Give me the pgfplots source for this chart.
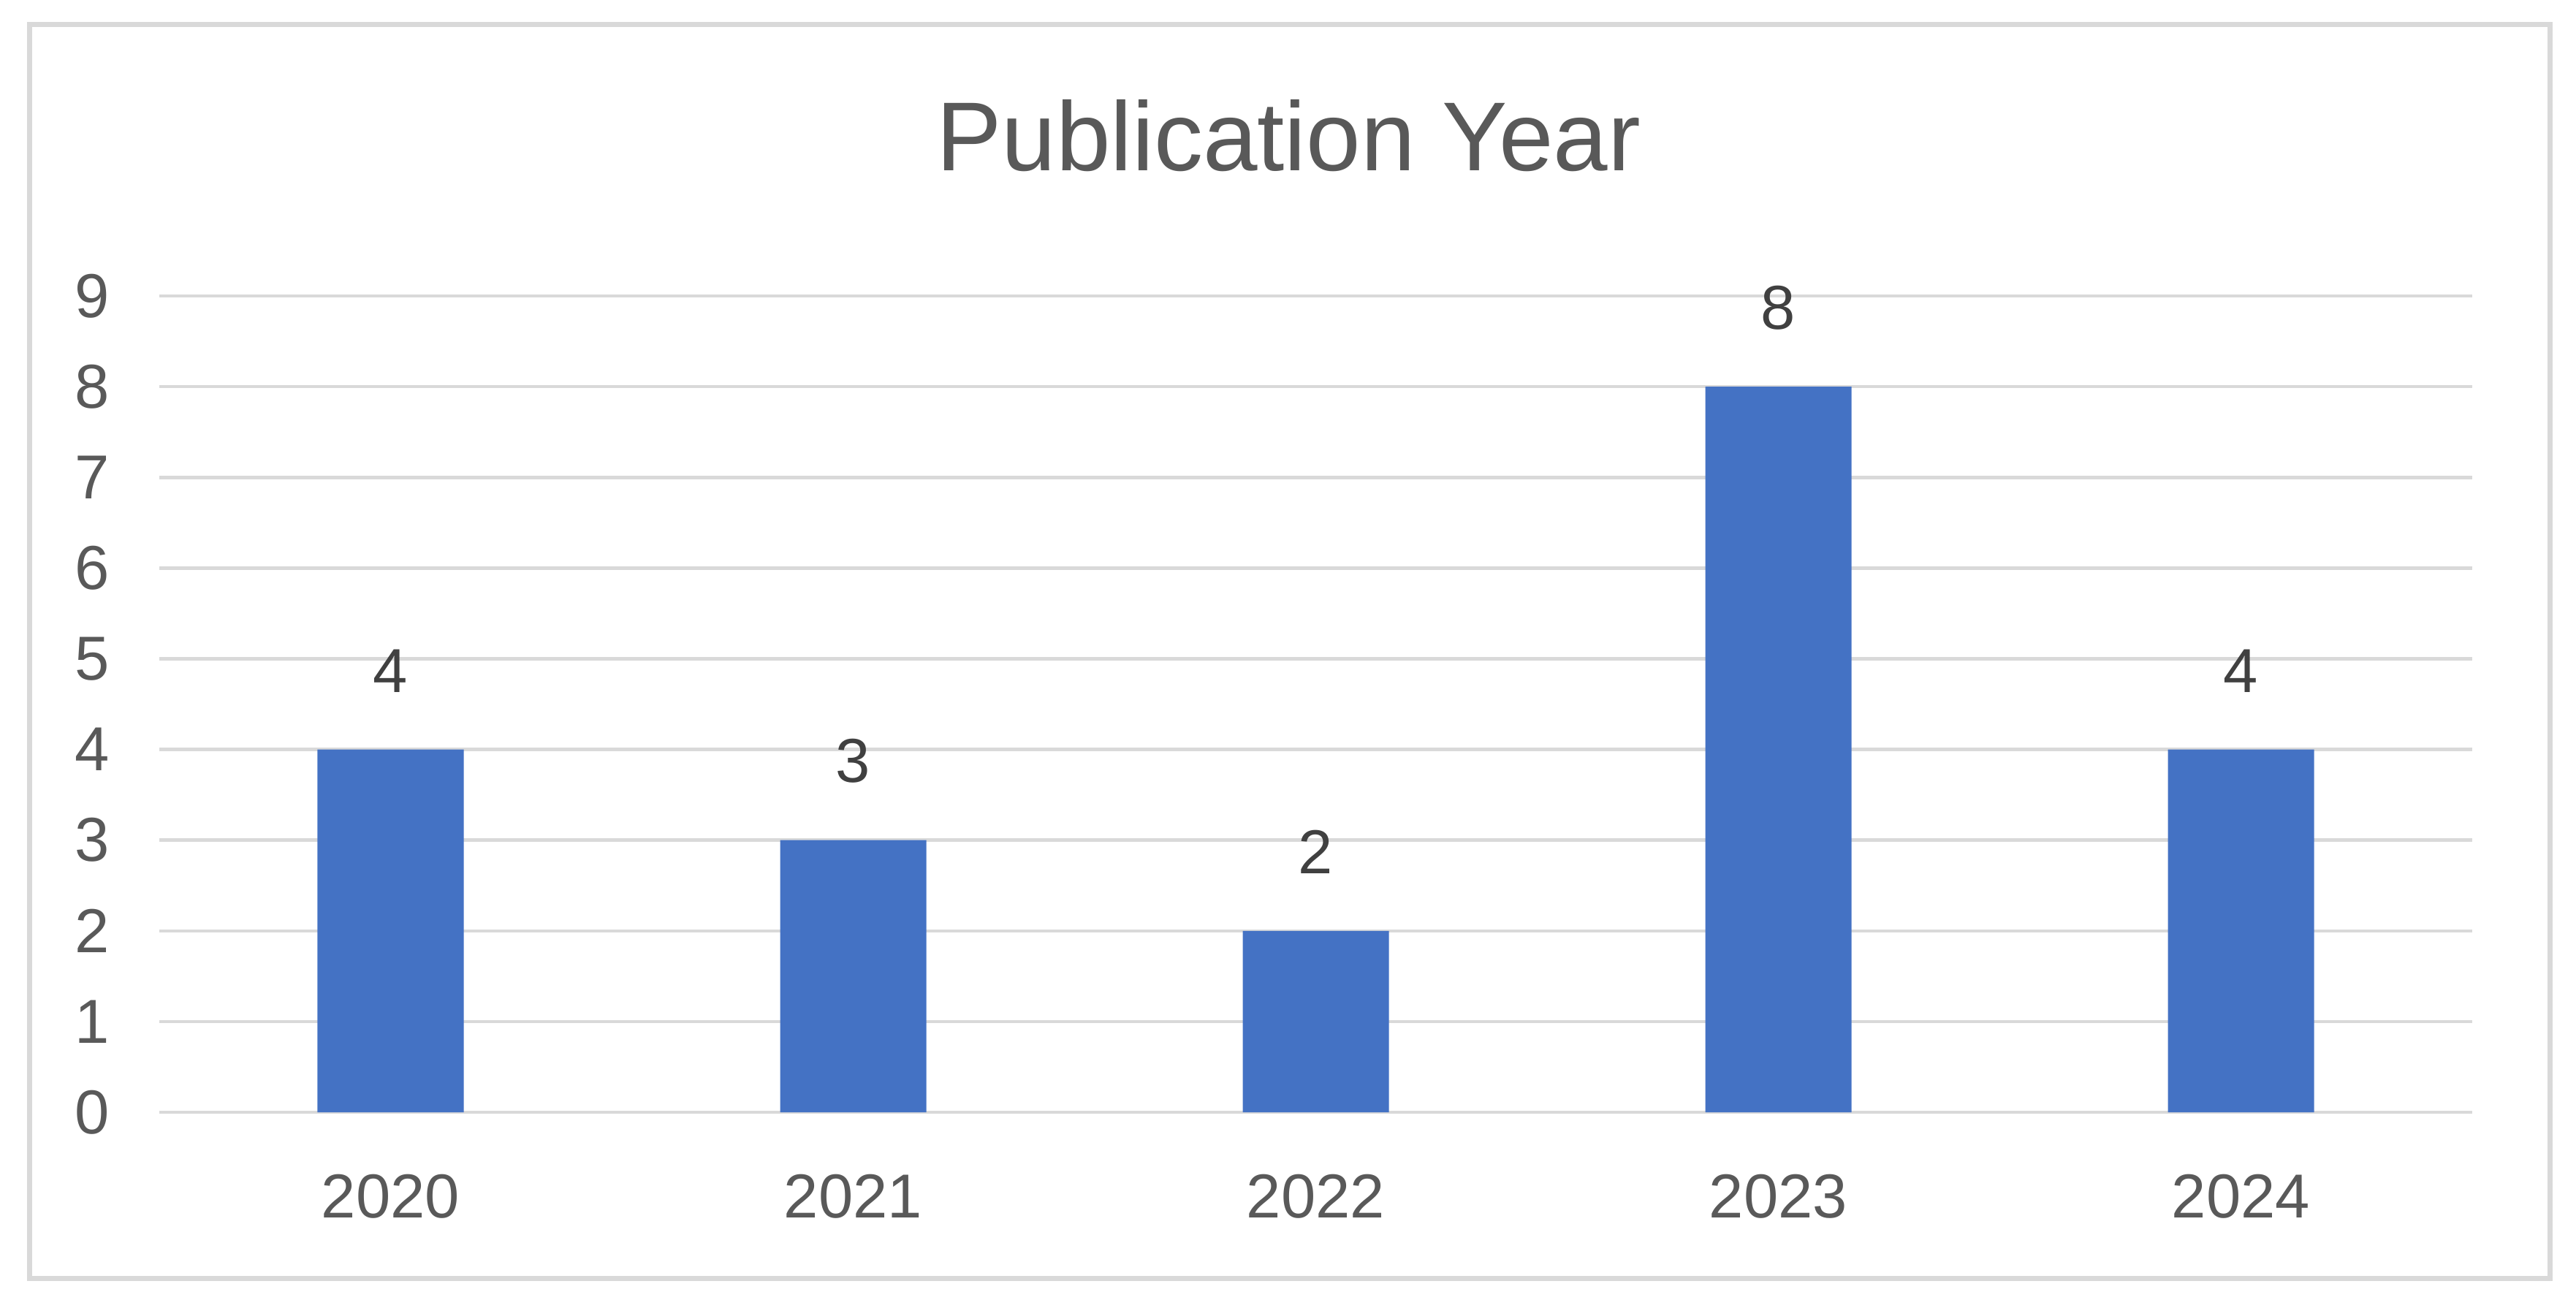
\documentclass[border=0pt]{standalone}
\usepackage{fontspec}
\setmainfont{Liberation Sans}
\usepackage{pgfplots}
\pgfplotsset{compat=1.18}
\definecolor{barblue}{HTML}{4472C4}
\definecolor{gridgray}{HTML}{D9D9D9}
\definecolor{ticktext}{HTML}{595959}
\definecolor{labeltext}{HTML}{404040}

\begin{document}
\begin{tikzpicture}
\useasboundingbox (0,0) rectangle (352.5pt,179.3pt);
% chart frame and title
\draw[gridgray, line width=0.7pt] (4.05pt,4.4pt) rectangle (348.9pt,175.9pt);
\node[ticktext, font=\fontsize{13.4}{16}\selectfont] at (176.3pt,160.7pt) {Publication Year};
\begin{axis}[
    at={(21.8pt,27.1pt)}, anchor=south west,
    scale only axis, width=316.5pt, height=111.7pt,
    xmin=-0.5, xmax=4.5, ymin=0, ymax=9,
    ytick={0,1,...,9},
    xtick={0,1,2,3,4},
    xticklabels={2020,2021,2022,2023,2024},
    axis line style={draw=none},
    tick style={draw=none}, major tick length=0pt,
    ymajorgrids=true,
    grid style={gridgray, line width=0.45pt},
    /pgf/number format/assume math mode=true,
    ticklabel style={ticktext, font=\fontsize{8.5}{10}\selectfont},
    yticklabel style={xshift=-3.3pt},
    xticklabel style={yshift=-5pt},
    ybar, bar width=0.316,
    nodes near coords,
    nodes near coords style={labeltext, font=\fontsize{8.5}{10}\selectfont, yshift=4.3pt},
  ]
  \addplot[fill=barblue, draw=none] coordinates {
      (0, 4)
      (1, 3)
      (2, 2)
      (3, 8)
      (4, 4)
    };
\end{axis}
\end{tikzpicture}
\end{document}
